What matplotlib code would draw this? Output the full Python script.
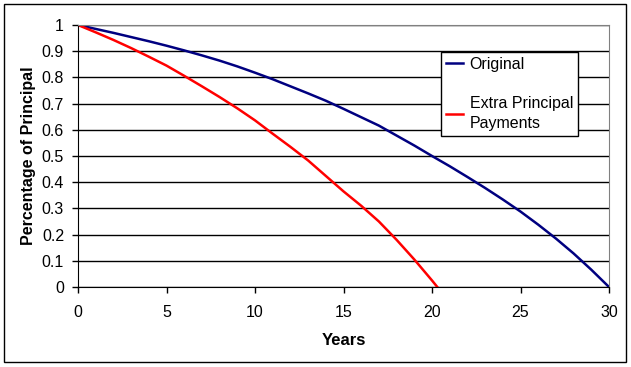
import matplotlib
matplotlib.use("Agg")
import matplotlib.pyplot as plt
from matplotlib.patches import Rectangle
from matplotlib.ticker import FuncFormatter, MultipleLocator

plt.rcParams['font.family'] = ['Liberation Sans', 'DejaVu Sans']

# Data
years_original = [0, 1, 2, 3, 4, 5, 6, 7, 8, 9, 10, 11, 12, 13, 14, 15,
                  16, 17, 18, 19, 20, 21, 22, 23, 24, 25, 26, 27, 28, 29, 30]
original = [1.0, 0.985, 0.970, 0.954, 0.938, 0.921, 0.903, 0.884, 0.864, 0.842,
            0.818, 0.793, 0.766, 0.739, 0.711, 0.680, 0.648, 0.616, 0.578, 0.540,
            0.500, 0.461, 0.420, 0.378, 0.334, 0.288, 0.238, 0.185, 0.128, 0.066, 0.0]

years_extra = [0, 1, 2, 3, 4, 5, 6, 7, 8, 9, 10, 11, 12, 13, 14, 15,
               16, 17, 18, 19, 20, 20.3]
extra = [1.0, 0.972, 0.943, 0.912, 0.879, 0.845, 0.806, 0.766, 0.725, 0.682,
         0.636, 0.585, 0.535, 0.483, 0.424, 0.365, 0.310, 0.250, 0.180, 0.105,
         0.025, 0.0]

series_labels = ["Original", "Extra Principal\nPayments"]
x_label = "Years"
y_label = "Percentage of Principal"

W, H = 631, 367
fig = plt.figure(figsize=(W / 100, H / 100), dpi=100)
fig.patch.set_facecolor('white')

# outer frame
fig.add_artist(Rectangle((4 / W, 1 - 362 / H), 622 / W, 358 / H,
                         transform=fig.transFigure, fill=False,
                         edgecolor='black', linewidth=1.0))

ax = fig.add_axes([78 / W, 1 - 287 / H, 531 / W, 262 / H])

ax.plot(years_original, original, color='#000080', linewidth=1.8, label=series_labels[0])
ax.plot(years_extra, extra, color='#ff0000', linewidth=1.8, label=series_labels[1])

ax.set_xlim(0, 30)
ax.set_ylim(0, 1)
ax.xaxis.set_major_locator(MultipleLocator(5))
ax.yaxis.set_major_locator(MultipleLocator(0.1))
ax.yaxis.set_major_formatter(FuncFormatter(lambda v, p: f"{round(v, 1):g}"))

ax.grid(axis='y', color='black', linewidth=1.0)
ax.set_axisbelow(True)

for s in ['top', 'right']:
    ax.spines[s].set_color('#808080')
ax.spines['left'].set_color('black')
ax.spines['bottom'].set_color('black')

ax.tick_params(axis='both', direction='out', length=4, width=1, labelsize=11.5,
               colors='black')
ax.tick_params(axis='y', pad=6)
ax.tick_params(axis='x', pad=9)

ax.set_xlabel(x_label, fontsize=12, fontweight='bold', labelpad=9)
ax.set_ylabel(y_label, fontsize=11.5, fontweight='bold', labelpad=4)

leg = ax.legend(loc='upper left', bbox_to_anchor=((441 - 78) / 531, (287 - 52) / 262),
                frameon=True, fancybox=False, edgecolor='black', framealpha=1,
                fontsize=11.5, handlelength=1.1, handletextpad=0.4,
                labelspacing=1.5, borderpad=0.3, borderaxespad=0)
leg.get_frame().set_linewidth(1.0)
for t in leg.get_texts():
    t.set_linespacing(1.45)

fig.savefig("out.png", dpi=100, facecolor='white')
